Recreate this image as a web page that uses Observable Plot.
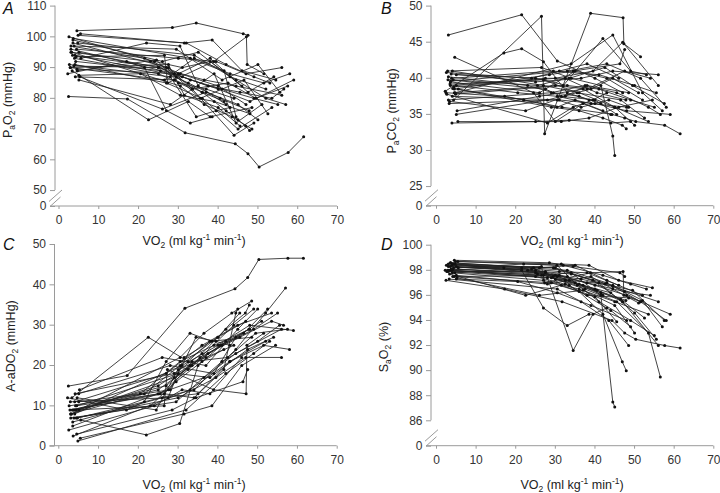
<!DOCTYPE html>
<html><head><meta charset="utf-8">
<script src="https://cdn.jsdelivr.net/npm/d3@7"></script>
<script src="https://cdn.jsdelivr.net/npm/@observablehq/plot@0.6"></script>
<style>
body{margin:0;background:#fff;font-family:"Liberation Sans",Arial,sans-serif;}
#wrap{position:relative;width:720px;height:493px;overflow:hidden;background:#fff;}
.panel{position:absolute;}
.letter{position:absolute;font-style:italic;font-size:16px;color:#111;line-height:1;}
.ytitle{position:absolute;transform:translate(-50%,-50%) rotate(-90deg);white-space:nowrap;font-size:12.5px;color:#222;line-height:1;}
.xtitle{position:absolute;transform:translate(-50%,-50%);white-space:nowrap;font-size:12.5px;color:#222;line-height:1;}
sub,sup{font-size:0.68em;line-height:0;}
sub{vertical-align:-0.35em;}
sup{vertical-align:0.55em;}
</style></head><body><div id="wrap"></div><script>
// ---- data (one entry per subject) ----
const subjects = d3.range(1, 36).map(i => "S" + i);
const vo2 = [
 [4.5, 28.5, 34.5, 46.3, 47.5],
 [3.0, 21.5, 30.5, 40.0, 47.0],
 [2.4, 17.2, 31.7, 44.3, 47.5, 50.3, 57.6, 61.5],
 [5.0, 25.0, 33.0, 41.0, 49.0, 55.0],
 [3.5, 26.0, 35.0, 43.0, 52.0],
 [4.0, 27.0, 36.0, 45.0, 53.5],
 [2.5, 24.0, 31.0, 38.0, 46.0],
 [3.0, 29.0, 37.5, 45.5, 53.5, 56.5],
 [4.5, 30.0, 38.0, 47.5, 54.0],
 [5.5, 22.0, 30.4, 35.0, 42.0],
 [3.5, 27.5, 33.5, 42.5, 49.5, 57.5],
 [4.0, 31.0, 40.0, 48.0, 59.0],
 [2.8, 26.5, 34.0, 41.5, 44.5, 45.0],
 [5.0, 28.0, 39.0, 44.5, 51.0],
 [3.2, 30.5, 36.5, 43.5, 48.5],
 [4.2, 25.5, 32.5, 40.5, 47.8],
 [3.8, 29.5, 41.0, 50.0, 55.5],
 [2.2, 17.0, 21.5, 27.0, 33.0, 38.5],
 [4.8, 32.0, 42.0, 49.0, 53.0],
 [3.4, 27.0, 35.5, 46.5, 52.5],
 [4.6, 24.5, 30.0, 37.0, 44.0],
 [3.6, 33.0, 43.0, 51.5, 58.0],
 [5.2, 26.0, 37.0, 45.0, 50.0],
 [2.6, 28.0, 34.5, 39.5, 43.0],
 [4.4, 30.0, 39.5, 47.0, 56.0],
 [3.0, 23.0, 29.5, 36.0, 41.5],
 [5.4, 31.5, 38.5, 46.0, 54.5],
 [3.9, 25.0, 33.5, 44.0, 49.0],
 [4.1, 29.0, 36.0, 42.0, 46.9, 47.9],
 [2.9, 27.5, 31.5, 40.0, 45.5],
 [4.7, 34.0, 44.5, 52.0, 57.0],
 [3.3, 22.5, 32.5, 38.0, 48.5],
 [4.3, 26.5, 27.3, 38.9, 47.1, 47.3, 51.5],
 [3.7, 25.0, 36.5, 44.5, 56.0],
 [5.0, 20.5, 30.5, 39.0, 48.0]
];
const pao2 = [
 [102, 103, 104.5, 101, 100.5],
 [97, 93, 88, 84, 78],
 [80.6, 79.8, 68.8, 65.2, 62, 57.7, 62.4, 67.5],
 [95, 90, 86, 83, 80, 78],
 [99, 92, 95, 87, 83],
 [91, 85, 80, 70, 77],
 [100, 92, 90, 92, 84],
 [96, 88, 84, 82, 80, 83],
 [89.5, 88, 93, 82, 87],
 [93, 98, 97, 84, 78],
 [98, 90, 83, 85, 80, 84],
 [94, 87, 83, 79, 86],
 [90, 86, 93, 89, 74, 73],
 [86, 78, 88, 72, 78],
 [95, 84, 78, 74, 70],
 [92, 89, 85, 80, 76],
 [97, 96, 86, 91, 82],
 [88, 92, 90, 76, 72, 74],
 [100.5, 98, 91, 87, 85],
 [94, 90, 80, 86, 75],
 [89, 92.5, 85, 83, 80],
 [99.5, 93, 88, 85, 88],
 [87, 76.5, 82, 78, 73],
 [91, 87, 74, 76, 77],
 [96, 93, 92, 88, 90],
 [95, 92, 87, 82, 79],
 [101, 98, 99, 89, 86],
 [93, 88, 83, 68, 72],
 [87, 86, 82, 76, 71, 69.5],
 [90, 91, 81, 77, 71],
 [98, 94, 86, 80, 78],
 [89, 73, 79, 74, 77],
 [93.5, 94, 85, 92, 100, 91, 88],
 [90.5, 90, 86, 84, 81],
 [87.5, 88, 81, 79, 75]
];
const paco2 = [
 [38.5, 40.5, 41, 42, 44],
 [46, 48.8, 42.4, 40, 38],
 [38, 37.5, 36, 35, 34.5, 34, 33.5, 32.3],
 [40.5, 40, 39, 38.5, 37, 36],
 [39.5, 38, 41, 40, 37],
 [41, 39, 38, 36, 34],
 [40.8, 40, 41, 42, 40],
 [37, 38, 39, 38, 36, 35],
 [38, 39, 38.5, 41, 40],
 [38.5, 37, 36, 37, 35.5],
 [39, 40, 40, 41.5, 39, 36.5],
 [37.5, 37, 36.5, 35.5, 35],
 [41, 41.5, 40, 39, 32, 29.3],
 [35, 37, 38.5, 40, 38],
 [36.5, 37, 36, 37, 36],
 [39.8, 39, 40, 38, 37],
 [40, 41, 40.5, 39, 38],
 [38.2, 43.5, 44.1, 42.3, 38, 37],
 [37.8, 39, 45.5, 41, 40.5],
 [39.2, 39.8, 38, 37, 34.5],
 [42.9, 38, 34, 36.5, 35],
 [39.6, 41, 42, 40, 36],
 [35.5, 37.5, 38.5, 36, 33.5],
 [37.8, 33.8, 36, 37, 38],
 [38.8, 40, 41, 45, 39],
 [40.2, 39, 38, 37.5, 36.5],
 [34, 34, 34.5, 36, 37],
 [33.8, 34, 34.2, 33.8, 34],
 [38.6, 36, 35.5, 34.5, 33.5, 33],
 [39.8, 38.5, 37.5, 37, 35],
 [38, 42, 46, 38, 35.5],
 [36.8, 35.5, 37.5, 39, 38],
 [37, 48.6, 32.3, 49, 48.4, 44.8, 43],
 [40.6, 39.5, 40, 41, 40.5],
 [39, 38, 37.5, 36.5, 36]
];
const aado2 = [
 [3, 9, 12, 16, 19],
 [8, 13, 20, 27, 31],
 [14.9, 17.5, 34.2, 39, 41.8, 46.3, 46.6, 46.6],
 [9, 15, 20, 25, 29, 33],
 [6, 12, 13, 21, 26],
 [11, 18, 25, 30, 33],
 [4, 10, 14, 13, 22],
 [8, 17, 23, 27, 31, 30],
 [10, 18, 17, 24, 27],
 [6.5, 2.8, 5.6, 20, 26],
 [5, 14, 21, 22, 28, 29],
 [8, 20, 25, 30, 28.7],
 [9, 13, 12, 19, 33, 34],
 [13, 20, 18, 27, 31],
 [8, 22, 28, 33, 36],
 [10, 13, 19, 25, 29],
 [7, 11, 21, 26, 30],
 [12, 9, 11, 21, 28, 26],
 [1.3, 9, 18, 23, 26],
 [9, 15, 22, 28, 34],
 [12, 9, 19, 22, 25],
 [2.5, 14, 21, 25, 24],
 [14, 22, 20, 29, 34],
 [10, 14, 27, 26, 25],
 [7, 12, 17, 22, 22],
 [7, 10, 16, 21, 24],
 [2, 8, 10, 20, 25],
 [9, 14, 20, 30, 34],
 [13, 18, 23, 29, 33, 35],
 [11, 12, 22, 27, 33],
 [7, 14, 24, 33, 39.2],
 [12, 27, 21, 26, 27],
 [9, 10, 19, 14, 13, 25, 28],
 [9, 13, 17, 23, 29],
 [11, 13, 21, 25, 29]
];
const sao2 = [
 [98.8, 98.6, 98.3, 97.8, 97.5],
 [98.5, 98.2, 97.5, 96.5, 95.5],
 [97.2, 96.5, 95.5, 94, 93, 92.5, 92, 91.8],
 [98.3, 98, 97.5, 95.5, 94, 92.8],
 [98.6, 98.2, 98.4, 97.2, 96],
 [97.8, 97.2, 96.5, 95.5, 94.5],
 [98.4, 98.1, 97.9, 97.8, 96.8],
 [98, 97.4, 96.5, 95.5, 93, 89.5],
 [97.5, 97.6, 97, 96.3, 96],
 [98.2, 98.5, 98.4, 97, 96],
 [98.3, 97.8, 97.2, 96.9, 96.4, 94],
 [98.5, 97.6, 96.8, 96, 94.5],
 [98, 97.6, 97.8, 96, 87.5, 87.1],
 [97.6, 96.9, 97.5, 96.5, 95.4],
 [97.3, 96.5, 95.5, 94, 92],
 [98.1, 97.7, 97.2, 96.4, 95.6],
 [98.4, 98.2, 97, 94.6, 92.5],
 [98, 98.2, 98, 95, 93.6, 94.5],
 [98.7, 98.4, 97.6, 96.9, 96.5],
 [98, 97.6, 96.8, 95.7, 94.2],
 [97.8, 98.2, 97.3, 96.8, 96.2],
 [98.6, 98, 97, 95.5, 94],
 [97.4, 96, 96.4, 95.2, 93],
 [97.9, 97.4, 91.6, 94.5, 95],
 [98.5, 98.2, 97.2, 95.5, 92],
 [98.3, 98, 97.5, 96.9, 96.2],
 [98.7, 98.5, 98.4, 97.2, 96.6],
 [98, 97.5, 96.8, 94.8, 93.5],
 [97.5, 97, 96.3, 94.5, 90.7, 90],
 [97.9, 97.9, 96.8, 95.9, 93.9],
 [98.5, 97.7, 96.8, 95.6, 93.5],
 [97.7, 96, 96.9, 96, 95.8],
 [98.2, 98.3, 97, 97.8, 97.9, 96, 95.5],
 [98.1, 97.8, 97.3, 96.7, 95.5],
 [97.3, 97.1, 96.2, 95.2, 94]
];
const xTicks = [0, 10, 20, 30, 40, 50, 60, 70];
const pao2Ticks = [50, 60, 70, 80, 90, 100, 110];
const paco2Ticks = [25, 30, 35, 40, 45, 50];
const aado2Ticks = [0, 10, 20, 30, 40, 50];
const sao2Ticks = [86, 88, 90, 92, 94, 96, 98, 100];

// ---- drawing ----
const AXIS = "#9a9a9a";
const FONT = "'Liberation Sans', Arial, sans-serif";
const wrap = document.getElementById("wrap");

function rowsOf(values) {
  const rows = [];
  subjects.forEach((s, i) => vo2[i].forEach((v, j) => rows.push({subject: s, vo2: v, value: values[i][j]})));
  return rows;
}

// For broken axes, the bottom of the y domain is a stand-in for "0" (shown below the break).
function panel({values, yBottom, yTop, yTicks, breakAt, yRange, yAxisPx, xRange, left, top}) {
  const W = 360, H = 236;
  const y0 = yRange[0];
  const rows = rowsOf(values);
  const ticks = breakAt != null ? [yBottom, ...yTicks] : yTicks;
  const decor = (index, scales, v, dims) => {
    const {x, y} = scales;
    const g = d3.create("svg:g").attr("stroke", AXIS).attr("fill", "none").attr("stroke-width", 1);
    const ax = dims.marginLeft;
    const base = dims.height - dims.marginBottom;
    g.append("line").attr("x1", ax - 5).attr("x2", x(70)).attr("y1", base).attr("y2", base);
    const topPx = y(yTop);
    const bot = breakAt != null ? y(breakAt) : base;
    g.append("line").attr("x1", ax).attr("x2", ax).attr("y1", topPx).attr("y2", bot);
    if (breakAt != null) {
      g.append("line").attr("x1", ax - 6).attr("y1", base - 4.5).attr("x2", ax + 7).attr("y2", base - 16);
      g.append("line").attr("x1", ax - 5).attr("y1", base + 0.5).attr("x2", ax + 5.5).attr("y2", base - 9);
    }
    return g.node();
  };
  const svg = Plot.plot({
    width: W, height: H,
    marginLeft: yAxisPx, marginRight: W - xRange[1], marginTop: yRange[1], marginBottom: H - y0,
    x: {domain: [0, 70], range: xRange},
    y: {domain: [yBottom, yTop], range: yRange},
    style: {fontFamily: FONT, fontSize: "12px", color: "#333", background: "transparent", overflow: "visible"},
    marks: [
      Plot.axisX({ticks: xTicks, tickSize: 3, tickPadding: 6, stroke: AXIS, label: null}),
      Plot.axisY({ticks, tickSize: 5, tickPadding: 4, stroke: AXIS, label: null,
                  tickFormat: d => (breakAt != null && d < breakAt) ? "0" : String(d)}),
      decor,
      Plot.line(rows, {x: "vo2", y: "value", z: "subject", stroke: "#222", strokeWidth: 0.85}),
      Plot.dot(rows, {x: "vo2", y: "value", r: 1.5, fill: "#111", stroke: "none"})
    ]
  });
  svg.classList.add("panel");
  svg.style.left = left + "px";
  svg.style.top = top + "px";
  wrap.appendChild(svg);
}

panel({values: pao2, yBottom: 44.82, yTop: 110, yTicks: pao2Ticks, breakAt: 50, yRange: [206, 5.6], yAxisPx: 55, xRange: [58.5, 337], left: 0, top: 0});
panel({values: paco2, yBottom: 22.28, yTop: 50, yTicks: paco2Ticks, breakAt: 25, yRange: [205.7, 5.6], yAxisPx: 71, xRange: [76, 353.3], left: 360, top: 0});
panel({values: aado2, yBottom: 0, yTop: 50, yTicks: aado2Ticks, breakAt: null, yRange: [205.7, 4], yAxisPx: 54.5, xRange: [58.3, 336.7], left: 0, top: 240});
panel({values: sao2, yBottom: 83.975, yTop: 100, yTicks: sao2Ticks, breakAt: 86, yRange: [205.7, 4.7], yAxisPx: 71, xRange: [76, 353.3], left: 360, top: 240});

function addText(cls, html, x, y) {
  const d = document.createElement("div");
  d.className = cls; d.innerHTML = html;
  d.style.left = x + "px"; d.style.top = y + "px";
  wrap.appendChild(d);
}
const xTitle = "VO<sub>2</sub> (ml kg<sup>-1</sup> min<sup>-1</sup>)";
addText("letter", "A", 3, 1);
addText("letter", "B", 381, 1);
addText("letter", "C", 3, 237);
addText("letter", "D", 381, 237);
addText("ytitle", "P<sub>a</sub>O<sub>2</sub> (mmHg)", 8, 100);
addText("ytitle", "P<sub>a</sub>CO<sub>2</sub> (mmHg)", 392, 111);
addText("ytitle", "A-aDO<sub>2</sub> (mmHg)", 11, 346);
addText("ytitle", "S<sub>a</sub>O<sub>2</sub> (%)", 384, 347);
addText("xtitle", xTitle, 194, 241);
addText("xtitle", xTitle, 572, 241);
addText("xtitle", xTitle, 194, 485);
addText("xtitle", xTitle, 572, 485);
</script></body></html>
